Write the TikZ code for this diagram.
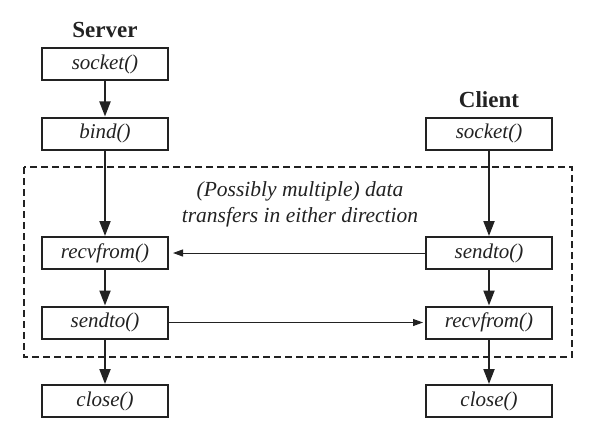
\documentclass[tikz,border=0pt]{standalone}
\usepackage{fontspec}
\setmainfont{Liberation Serif}
\usetikzlibrary{arrows.meta}
\definecolor{ink}{HTML}{222222}
\begin{document}
\begin{tikzpicture}[x=1pt,y=-1pt,
  fn/.style={draw=ink,line width=2pt,minimum width=126pt,minimum height=32pt,inner sep=0pt,font=\fontsize{21}{23}\selectfont\itshape,text=ink},
  hdr/.style={font=\fontsize{23}{25}\selectfont\bfseries,text=ink},
  vflow/.style={draw=ink,line width=2pt,-{Triangle[length=15pt,width=11pt]}},
  hflow/.style={draw=ink,line width=1pt,-{Triangle[length=10pt,width=7pt]}},
  note/.style={font=\fontsize{21.5}{26}\selectfont\itshape,text=ink,align=center}]
\useasboundingbox (0,0) rectangle (604,433);
\node[hdr] (srv) at (105,30) {Server};
\node[hdr] (cli) at (489,100) {Client};
\node[fn] (ssock) at (105,64.5) {socket()};
\node[fn] (sbind) at (105,133.5) {bind()};
\node[fn] (csock) at (489,133.5) {socket()};
\node[fn] (srecv) at (105,253) {recvfrom()};
\node[fn] (csend) at (489,253) {sendto()};
\node[fn] (ssend) at (105,322.5) {sendto()};
\node[fn] (crecv) at (489,322.5) {recvfrom()};
\node[fn] (sclose) at (105,401) {close()};
\node[fn] (cclose) at (489,401) {close()};
\draw[ink,line width=1.8pt,dash pattern=on 7pt off 4pt] (24,167) rectangle (572,357);
\node[note] (txt) at (300,204) {(Possibly multiple) data\\transfers in either direction};
\draw[vflow] (ssock) -- (sbind);
\draw[vflow] (sbind) -- (srecv);
\draw[vflow] (srecv) -- (ssend);
\draw[vflow] (ssend) -- (sclose);
\draw[vflow] (csock) -- (csend);
\draw[vflow] (csend) -- (crecv);
\draw[vflow] (crecv) -- (cclose);
\draw[hflow,shorten >=4pt] (csend) -- (srecv);
\draw[hflow,shorten >=2pt] (ssend) -- (crecv);
\end{tikzpicture}
\end{document}
